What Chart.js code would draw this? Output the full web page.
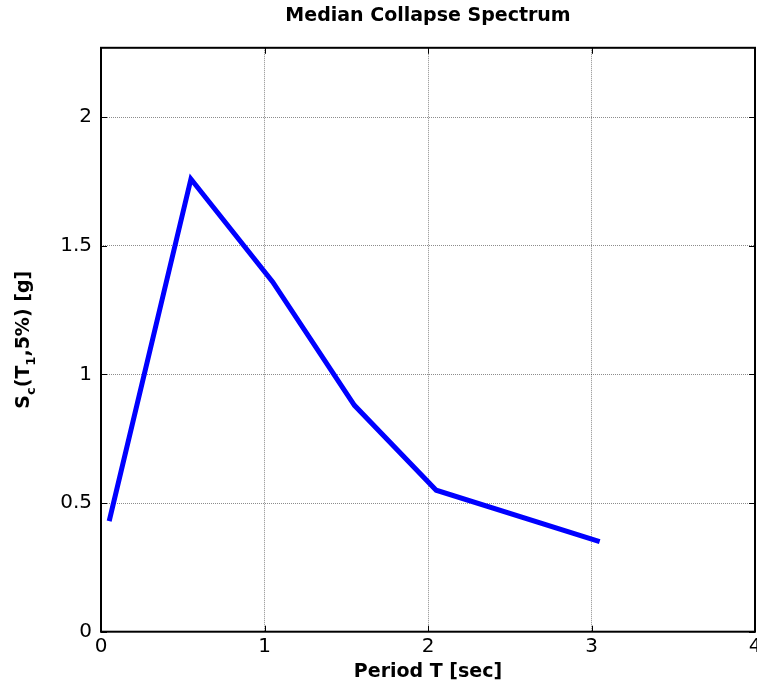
<!DOCTYPE html>
<html>
<head>
<meta charset="utf-8">
<script src="https://cdn.jsdelivr.net/npm/chart.js@4/dist/chart.umd.min.js"></script>
<style>
  html, body { margin: 0; padding: 0; background: #fff; }
  #chart { display: block; }
</style>
</head>
<body>
<canvas id="chart" width="757" height="687"></canvas>
<script>
// data
const periods = [0.05, 0.55, 1.05, 1.55, 2.05, 3.05];
const collapseSa = [0.43, 1.76, 1.36, 0.88, 0.55, 0.35];
const xTicks = [0, 1, 2, 3, 4];
const yTicks = [0, 0.5, 1, 1.5, 2];

const FONT = 'DejaVu Sans';

// y axis title with subscripts: S_c(T_1,5%) [g]
const yTitleParts = [
  ['S', false],
  ['c', true],
  ['(T', false],
  ['1', true],
  [',5%) [g]', false]
];

const yTitlePlugin = {
  id: 'yTitle',
  afterDraw(chart) {
    const { ctx, chartArea } = chart;
    const big = `bold 19px "${FONT}"`;
    const small = `bold 13px "${FONT}"`;
    ctx.save();
    ctx.translate(29, (chartArea.top + chartArea.bottom) / 2);
    ctx.rotate(-Math.PI / 2);
    ctx.fillStyle = '#000';
    ctx.textBaseline = 'alphabetic';
    let total = 0;
    yTitleParts.forEach(([t, sub]) => {
      ctx.font = sub ? small : big;
      total += ctx.measureText(t).width;
    });
    let x = -total / 2;
    yTitleParts.forEach(([t, sub]) => {
      ctx.font = sub ? small : big;
      ctx.fillText(t, x, sub ? 6 : 0);
      x += ctx.measureText(t).width;
    });
    ctx.restore();
  }
};

// box around the axes plus the short inward ticks on all four sides
const framePlugin = {
  id: 'frame',
  afterDraw(chart) {
    const { ctx, chartArea: a, scales } = chart;
    const len = 6;
    ctx.save();
    ctx.strokeStyle = '#000';
    ctx.lineWidth = 1;
    ctx.beginPath();
    scales.x.ticks.forEach((t) => {
      const px = Math.round(scales.x.getPixelForValue(t.value)) + 0.5;
      ctx.moveTo(px, a.bottom);
      ctx.lineTo(px, a.bottom - len);
      ctx.moveTo(px, a.top);
      ctx.lineTo(px, a.top + len);
    });
    scales.y.ticks.forEach((t) => {
      const py = Math.round(scales.y.getPixelForValue(t.value)) + 0.5;
      ctx.moveTo(a.left, py);
      ctx.lineTo(a.left + len, py);
      ctx.moveTo(a.right, py);
      ctx.lineTo(a.right - len, py);
    });
    ctx.stroke();
    ctx.lineWidth = 2;
    ctx.strokeRect(a.left, a.top, a.right - a.left, a.bottom - a.top);
    ctx.restore();
  }
};

const gridStyle = { color: 'rgba(0, 0, 0, 0.45)', lineWidth: 1, drawTicks: false };

new Chart(document.getElementById('chart'), {
  type: 'line',
  data: {
    datasets: [{
      data: periods.map((p, i) => ({ x: p, y: collapseSa[i] })),
      borderColor: '#0000ff',
      borderWidth: 5,
      pointRadius: 0,
      tension: 0,
      fill: false
    }]
  },
  options: {
    responsive: false,
    animation: false,
    events: [],
    layout: { padding: { left: 0, right: 2, top: 0, bottom: 0 } },
    plugins: {
      legend: { display: false },
      tooltip: { enabled: false },
      title: {
        display: true,
        fullSize: false,
        text: 'Median Collapse Spectrum',
        color: '#000',
        font: { family: FONT, size: 19, weight: 'bold' },
        padding: { top: 5, bottom: 20 }
      }
    },
    scales: {
      x: {
        type: 'linear',
        min: 0,
        max: 4,
        afterBuildTicks: (s) => { s.ticks = xTicks.map((v) => ({ value: v })); },
        afterFit: (s) => { s.height = 55.3; s.paddingLeft = 0; s.paddingRight = 0; },
        grid: gridStyle,
        border: { display: false, dash: [1, 1] },
        ticks: {
          color: '#000',
          padding: 3,
          maxRotation: 0,
          font: { family: FONT, size: 20 },
          callback: (v) => String(v)
        },
        title: {
          display: true,
          text: 'Period T [sec]',
          color: '#000',
          font: { family: FONT, size: 19, weight: 'bold' },
          padding: { top: 0, bottom: 4 }
        }
      },
      y: {
        type: 'linear',
        min: 0,
        max: 2.27,
        afterBuildTicks: (s) => { s.ticks = yTicks.map((v) => ({ value: v })); },
        afterFit: (s) => { s.width = 101; s.paddingTop = 0; s.paddingBottom = 0; },
        grid: gridStyle,
        border: { display: false, dash: [1, 1] },
        ticks: {
          color: '#000',
          padding: 9,
          font: { family: FONT, size: 20 },
          callback: (v) => String(v)
        }
      }
    }
  },
  plugins: [yTitlePlugin, framePlugin]
});
</script>
</body>
</html>
